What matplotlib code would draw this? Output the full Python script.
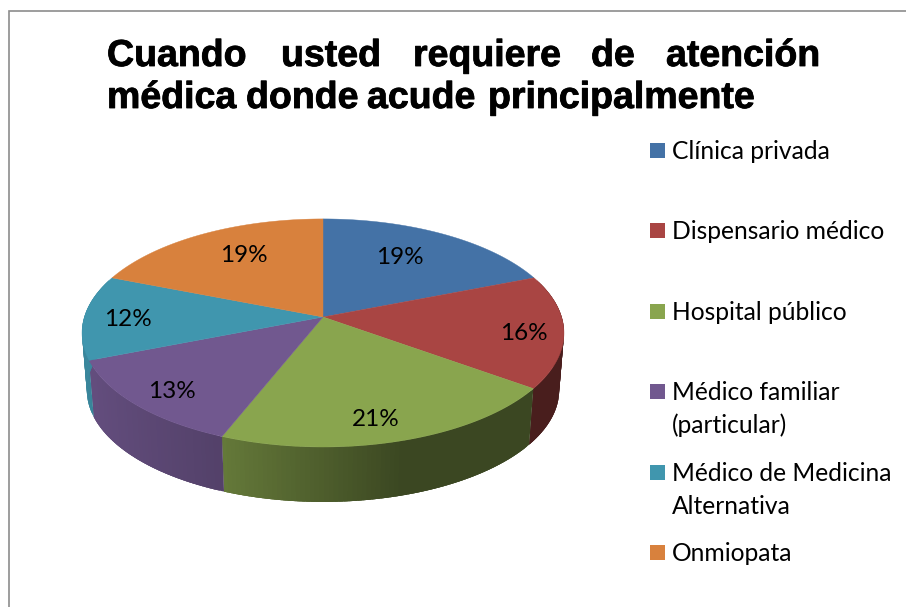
"""Perspective 3D pie, drawn on a full-figure axes in pixel units."""
import numpy as np
import matplotlib
matplotlib.use("Agg")
import matplotlib.pyplot as plt
import matplotlib.patheffects as pe
from matplotlib.patches import Rectangle

CATEGORIES = ["Clínica privada", "Dispensario médico", "Hospital público",
              "Médico familiar\n(particular)", "Médico de Medicina\nAlternativa",
              "Onmiopata"]
VALUES = [19, 16, 21, 13, 12, 19]
COLORS = ["#4472a6", "#a94543", "#89a54e", "#71588f", "#4096ae", "#d8813d"]
TITLE_LINE1 = ["Cuando", "usted", "requiere", "de", "atención"]
TITLE_LINE2 = ["médica", "donde", "acude", "principalmente"]

W, H = 906, 607
CX, CY = 323, 317       # apex of the top face
RX, RY, K = 238.6, 111.8, 0.14   # projected circle
BOTTOM_CY, BOTTOM_S = 374.5, 0.98


def project(theta, cy=CY, s=1.0):
    u, v = np.sin(theta), -np.cos(theta)
    d = 1 - K * v
    return CX + s * RX * u / d, cy + s * RY * v / d


def shade(color, theta):
    f = np.interp(np.sin(theta), [-1, -0.37, 0, 0.3, 1], [0.9, 0.74, 0.57, 0.43, 0.43])
    return tuple(c * f for c in matplotlib.colors.to_rgb(color))


fig = plt.figure(figsize=(W / 100, H / 100), dpi=100)
ax = fig.add_axes([0, 0, 1, 1])
ax.set_xlim(0, W)
ax.set_ylim(H, 0)
ax.axis("off")

# chart frame, only top and left fall inside the crop
ax.plot([9, 9, W], [H, 10.5, 10.5], color="#8c8c8c", lw=1.2, solid_joinstyle="miter")

edges = np.radians(np.cumsum([0] + VALUES) * 3.6)

# side wall, only the part facing the viewer; strips overlap to hide seams
for i, color in enumerate(COLORS):
    lo, hi = max(edges[i], np.radians(70)), min(edges[i + 1], np.radians(290))
    if hi <= lo:
        continue
    steps = np.linspace(lo, hi, int(np.degrees(hi - lo)) + 2)
    for a in steps[:-1]:
        arc = np.linspace(a, hi if a + 0.05 > hi else a + 0.05, 6)
        xt, yt = project(arc)
        xb, yb = project(arc[::-1], BOTTOM_CY, BOTTOM_S)
        ax.fill(np.r_[xt, xb], np.r_[yt, yb], color=shade(color, a), lw=0)

# top face
for i, color in enumerate(COLORS):
    t = np.linspace(edges[i], edges[i + 1], 120)
    x, y = project(t)
    ax.fill(np.r_[CX, x], np.r_[CY, y], color=color, lw=0.3)

label_pos = [(400, 258), (524, 333), (376, 419), (172, 391), (128, 319), (244, 256)]
for val, (x, y) in zip(VALUES, label_pos):
    ax.text(x, y, f"{val}%", ha="center", va="center", family="Lato", fontsize=17.5, color="black")

# justified title, placed word by word; thin stroke to get the heavier weight
title_x1 = [107, 281, 413, 591, 666]
title_x2 = [107, 246, 367, 488]
for words, xs, base in ((TITLE_LINE1, title_x1, 66), (TITLE_LINE2, title_x2, 108)):
    for word, x in zip(words, xs):
        ax.text(x, base, word, family="Liberation Sans", weight="bold", fontsize=27, va="baseline",
                path_effects=[pe.withStroke(linewidth=0.6, foreground="black")])

# legend
legend_y = [150, 230, 311, 391, 472, 552]
for name, color, y in zip(CATEGORIES, COLORS, legend_y):
    ax.add_patch(Rectangle((650, y - 7.5), 15, 15, color=color, lw=0))
    for j, line in enumerate(name.split("\n")):
        ax.text(672, y + 9 + j * 33, line, family="Lato", fontsize=17.7, va="baseline", color="black")

fig.savefig("out.png", dpi=100)
